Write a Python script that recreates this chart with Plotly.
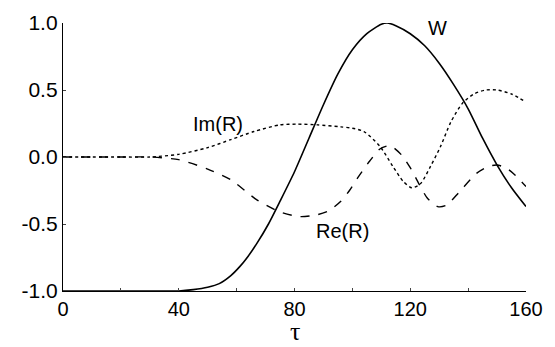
import plotly.graph_objects as go

# W(tau), solid
tau_w = [0, 10, 20, 30, 40, 45, 50, 54, 58, 61, 64, 67, 71, 75, 80, 85, 90, 95, 100,
         105, 110, 112, 115, 120, 125, 130, 135, 140, 145, 150, 155, 160]
w_vals = [-1.0, -1.0, -1.0, -1.0, -1.0, -0.99, -0.972, -0.945, -0.885, -0.82, -0.74,
          -0.645, -0.5, -0.33, -0.11, 0.14, 0.39, 0.62, 0.8, 0.92, 0.99, 1.0, 0.98, 0.92,
          0.83, 0.7, 0.54, 0.36, 0.14, -0.06, -0.23, -0.37]

# Im(R), dotted
tau_im = [0, 10, 20, 30, 40, 50, 58, 66, 75, 81, 88, 96, 100, 104, 109.5, 114, 117.5,
          120.5, 123.5, 127, 130.5, 134, 138, 142, 146, 150, 155, 160]
im_vals = [0.0, 0.0, 0.0, 0.0, 0.02, 0.07, 0.13, 0.19, 0.24, 0.245, 0.24, 0.225, 0.215,
           0.19, 0.08, -0.07, -0.18, -0.23, -0.2, -0.07, 0.08, 0.26, 0.4, 0.47, 0.5,
           0.5, 0.47, 0.41]

# Re(R), dashed
tau_re = [0, 10, 20, 30, 40, 50, 58, 67, 75, 82, 88, 92, 96, 99, 102, 106, 109.5, 113,
          117, 120, 123, 126, 129.5, 132.5, 137, 143, 147, 150, 153, 156, 160]
re_vals = [0.0, 0.0, 0.0, 0.0, -0.02, -0.09, -0.17, -0.32, -0.41, -0.445, -0.43, -0.4,
           -0.33, -0.25, -0.15, -0.03, 0.06, 0.085, 0.015, -0.08, -0.2, -0.31, -0.37,
           -0.36, -0.26, -0.12, -0.07, -0.06, -0.08, -0.13, -0.22]

fig = go.Figure()
line_common = dict(color="black", shape="spline", smoothing=0.7)
fig.add_trace(go.Scatter(x=tau_w, y=w_vals, mode="lines",
                         line=dict(width=1.6, dash="solid", **line_common)))
fig.add_trace(go.Scatter(x=tau_im, y=im_vals, mode="lines",
                         line=dict(width=1.4, dash="dot", **line_common)))
fig.add_trace(go.Scatter(x=tau_re, y=re_vals, mode="lines",
                         line=dict(width=1.4, dash="dash", **line_common)))

label_font = dict(family="Liberation Sans, Arial, sans-serif", size=20, color="black")
fig.add_annotation(x=129.5, y=0.96, text="W", showarrow=False, font=label_font)
fig.add_annotation(x=53.5, y=0.25, text="Im(R)", showarrow=False, font=label_font)
fig.add_annotation(x=96.5, y=-0.55, text="Re(R)", showarrow=False, font=label_font)

# x-axis title placed under the tick labels
fig.add_annotation(x=80, xref="x", y=-0.15, yref="paper", yanchor="middle",
                   xanchor="center", text="τ", showarrow=False,
                   font=dict(family="Liberation Serif, serif", size=26, color="black"))

fig.update_layout(
    width=555, height=347,
    margin=dict(l=63, r=29, t=23, b=56, autoexpand=False),
    paper_bgcolor="white", plot_bgcolor="white",
    showlegend=False,
    font=dict(family="Liberation Sans, Arial, sans-serif", size=21, color="black"),
)
fig.update_xaxes(
    range=[0, 160], tickvals=[0, 40, 80, 120, 160],
    ticks="inside", ticklen=3, tickcolor="#444",
    minor=dict(tickvals=[20, 60, 100, 140], ticks="inside", ticklen=3, tickcolor="#444"),
    tickfont=dict(size=20), automargin=False,
    showline=True, linecolor="black", linewidth=1.3,
    showgrid=False, zeroline=False,
)
fig.update_yaxes(
    range=[-1, 1], tickvals=[-1, -0.5, 0, 0.5, 1],
    ticktext=["-1.0", "-0.5", "0.0", "0.5", "1.0"],
    ticks="inside", ticklen=3, tickcolor="#444", automargin=False,
    showline=True, linecolor="black", linewidth=1.3,
    showgrid=False, zeroline=False,
)

fig.write_html("out.html")
